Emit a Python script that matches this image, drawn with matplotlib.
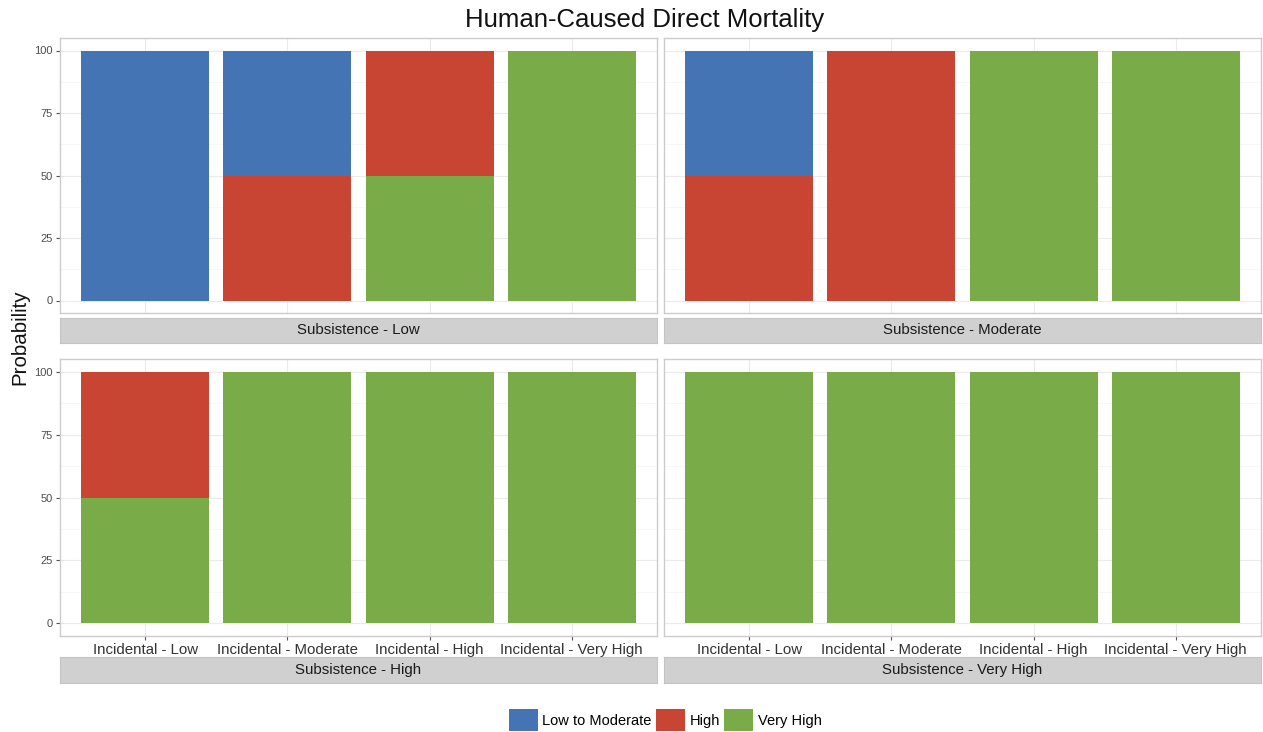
import matplotlib
matplotlib.use("Agg")
import matplotlib.pyplot as plt
from matplotlib.patches import Patch

plt.rcParams["font.family"] = ["Liberation Sans", "DejaVu Sans"]

W, H = 1263, 732

incidental = ["Incidental - Low", "Incidental - Moderate",
              "Incidental - High", "Incidental - Very High"]
subsistence = ["Subsistence - Low", "Subsistence - Moderate",
               "Subsistence - High", "Subsistence - Very High"]
levels = ["Low to Moderate", "High", "Very High"]
colors = {"Low to Moderate": "#4474b3", "High": "#c94533", "Very High": "#79ac48"}

# probability (%) per subsistence panel, per incidental category
low_to_moderate = [[100, 50, 0, 0], [50, 0, 0, 0], [0, 0, 0, 0], [0, 0, 0, 0]]
high = [[0, 50, 50, 0], [50, 100, 0, 0], [50, 0, 0, 0], [0, 0, 0, 0]]
very_high = [[0, 0, 50, 100], [0, 0, 100, 100], [50, 100, 100, 100], [100, 100, 100, 100]]

fig = plt.figure(figsize=(W / 100, H / 100), dpi=100)
fig.patch.set_facecolor("white")


def px_axes(x0, y0, x1, y1):
    return fig.add_axes([x0 / W, 1 - y1 / H, (x1 - x0) / W, (y1 - y0) / H])


panel_x = [(60, 657), (664, 1261)]
panel_y = [(38, 313), (359, 636)]
strip_y = [(318, 343), (657, 683)]

for k, name in enumerate(subsistence):
    r, c = divmod(k, 2)
    x0, x1 = panel_x[c]
    y0, y1 = panel_y[r]
    ax = px_axes(x0, y0, x1, y1)
    xs = range(len(incidental))
    # stacking: Very High at bottom, then High, then Low to Moderate
    bottom = [0] * 4
    for lvl, vals in (("Very High", very_high[k]), ("High", high[k]),
                      ("Low to Moderate", low_to_moderate[k])):
        ax.bar(xs, vals, width=0.9, bottom=bottom, color=colors[lvl], zorder=3)
        bottom = [b + v for b, v in zip(bottom, vals)]
    ax.set_xlim(-0.6, 3.6)
    ax.set_ylim(-5, 105)
    ax.set_yticks([0, 25, 50, 75, 100])
    ax.set_yticks([12.5, 37.5, 62.5, 87.5], minor=True)
    ax.set_xticks(list(xs))
    ax.grid(True, which="major", color="#ebebeb", lw=0.8, zorder=0)
    ax.grid(True, which="minor", axis="y", color="#f4f4f4", lw=0.5, zorder=0)
    ax.tick_params(axis="both", which="minor", length=0)
    ax.tick_params(axis="both", color="#555555", length=3, width=0.8)
    if c == 0:
        ax.tick_params(axis="y", labelsize=8, labelcolor="#4d4d4d", pad=2)
    else:
        ax.tick_params(axis="y", labelleft=False, length=0)
    if r == 1:
        ax.set_xticklabels(incidental, fontsize=10.8, color="#333333")
        ax.tick_params(axis="x", pad=2)
    else:
        ax.set_xticklabels([])
        ax.tick_params(axis="x", length=0)
    for s in ax.spines.values():
        s.set_color("#cccccc")
        s.set_linewidth(1.0)

    sy0, sy1 = strip_y[r]
    sax = px_axes(x0, sy0, x1, sy1)
    sax.set_facecolor("#d0d0d0")
    sax.set_xticks([])
    sax.set_yticks([])
    for s in sax.spines.values():
        s.set_color("#c4c4c4")
    sax.text(0.5, 0.5, name, ha="center", va="center", fontsize=10.8,
             color="#1a1a1a", transform=sax.transAxes)

fig.text(645 / W, 1 - 20 / H, "Human-Caused Direct Mortality", ha="center",
         va="center", fontsize=18.5, color="#111111")
fig.text(20 / W, 1 - 337 / H, "Probability", ha="center", va="center",
         rotation=90, fontsize=14.8, color="#111111")

handles = [Patch(facecolor=colors[l], edgecolor="none", label=l) for l in levels]
fig.legend(handles=handles, loc="center", bbox_to_anchor=(665 / W, 1 - 720 / H),
           ncol=3, frameon=False, fontsize=10.5, handlelength=2.0, handleheight=2.0,
           handletextpad=0.3, columnspacing=0.3, borderpad=0)

fig.savefig("out.png", dpi=100, facecolor="white")
